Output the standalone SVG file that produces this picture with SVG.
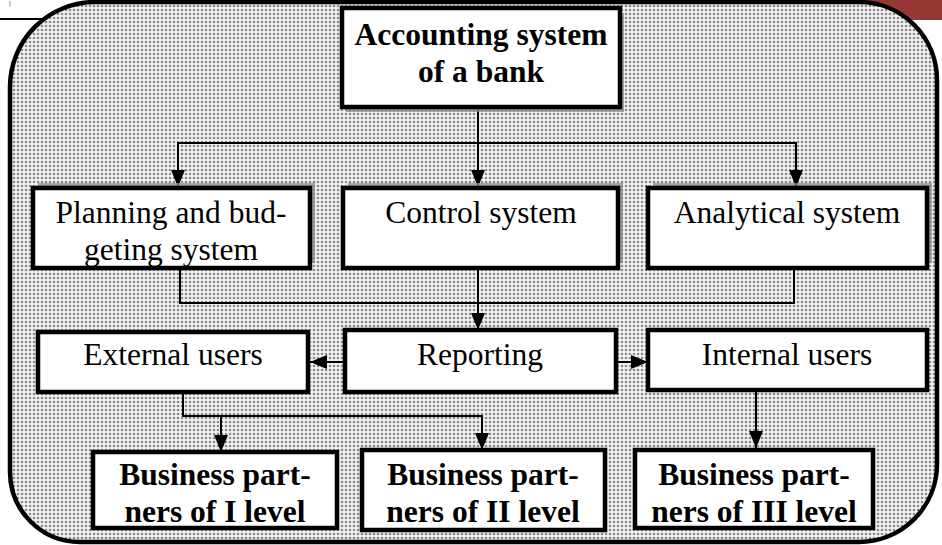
<svg xmlns="http://www.w3.org/2000/svg" width="942" height="545" viewBox="0 0 942 545">
  <style>
    .box { fill: #ffffff; stroke: #000000; stroke-width: 4.5; }
    .shadow { fill: #8a8a8a; opacity: 0.75; }
    .lbl { font-family: "Liberation Serif", "Times New Roman", serif; font-size: 31.5px; fill: #000000; text-anchor: middle; }
    .bold { font-weight: bold; }
    .conn { fill: none; stroke: #000000; stroke-width: 2; }
  </style>
  <defs>
    <pattern id="dots" width="4" height="4" patternUnits="userSpaceOnUse">
      <rect width="4" height="4" fill="#f2f2f2"/>
      <circle cx="2" cy="2" r="1.3" fill="#8a8a8a"/>
    </pattern>
    <marker id="arrow" markerUnits="userSpaceOnUse" viewBox="0 0 17 14" markerWidth="17" markerHeight="14" refX="17" refY="7" orient="auto">
      <path d="M0,0 L17,7 L0,14 z" fill="#000000"/>
    </marker>
  </defs>

  <!-- page header fragments -->
  <rect x="862" y="0" width="80" height="20" fill="#953735"/>
  <line x1="0" y1="19" x2="46" y2="19" stroke="#000000" stroke-width="2"/>
  <text x="9" y="5" font-family="Liberation Serif, serif" font-size="6" font-weight="bold" fill="#76923C">[</text>

  <!-- rounded frame with dotted fill -->
  <path id="frame" d="M95,2 H859 A78,78 0 0 1 937,80 V464 A78,78 0 0 1 859,542 H80 A70,70 0 0 1 10,472 V87 A85,85 0 0 1 95,2 Z"
        fill="url(#dots)" stroke="#000000" stroke-width="4.5"/>

  <!-- connectors -->
  <g id="connectors">
    <line class="conn" x1="478" y1="107" x2="478" y2="187" marker-end="url(#arrow)"/>
    <line class="conn" x1="177" y1="143" x2="797" y2="143"/>
    <line class="conn" x1="178" y1="143" x2="178" y2="187" marker-end="url(#arrow)"/>
    <line class="conn" x1="796" y1="143" x2="796" y2="187" marker-end="url(#arrow)"/>
    <path class="conn" d="M180,268 V303 H794 V268"/>
    <line class="conn" x1="478" y1="268" x2="478" y2="330" marker-end="url(#arrow)"/>
    <line class="conn" x1="345" y1="362" x2="310" y2="362" marker-end="url(#arrow)"/>
    <line class="conn" x1="616" y1="362" x2="648" y2="362" marker-end="url(#arrow)"/>
    <path class="conn" d="M183,392 V416 H482 V450" marker-end="url(#arrow)"/>
    <line class="conn" x1="221" y1="416" x2="221" y2="452" marker-end="url(#arrow)"/>
    <line class="conn" x1="756" y1="392" x2="756" y2="448" marker-end="url(#arrow)"/>
  </g>

  <!-- top node -->
  <g id="accounting">
    <rect class="shadow" x="346" y="13" width="278" height="99"/>
    <rect class="box" x="342" y="8" width="278" height="99" stroke-width="5"/>
    <text class="lbl bold" x="481" y="45">Accounting system</text>
    <text class="lbl bold" x="481" y="82">of a bank</text>
  </g>

  <!-- second row -->
  <g id="planning">
    <rect class="shadow" x="38" y="183" width="277" height="80"/>
    <rect class="box" x="33" y="188" width="277" height="80"/>
    <text class="lbl" x="171" y="223">Planning and bud-</text>
    <text class="lbl" x="171" y="260">geting system</text>
  </g>
  <g id="control">
    <rect class="shadow" x="348" y="183" width="275" height="80"/>
    <rect class="box" x="343" y="188" width="275" height="80"/>
    <text class="lbl" x="481" y="223">Control system</text>
  </g>
  <g id="analytical">
    <rect class="shadow" x="653" y="183" width="279" height="80"/>
    <rect class="box" x="648" y="188" width="279" height="80"/>
    <text class="lbl" x="787" y="223">Analytical system</text>
  </g>

  <!-- third row -->
  <g id="external">
    <rect class="box" x="38" y="332" width="270" height="60"/>
    <text class="lbl" x="173" y="365">External users</text>
  </g>
  <g id="reporting">
    <rect class="box" x="345" y="330" width="271" height="62"/>
    <text class="lbl" x="480" y="365">Reporting</text>
  </g>
  <g id="internal">
    <rect class="box" x="648" y="330" width="279" height="60"/>
    <text class="lbl" x="787" y="365">Internal users</text>
  </g>

  <!-- bottom row -->
  <g id="partners1">
    <rect class="box" x="93" y="452" width="244" height="76"/>
    <text class="lbl bold" x="215" y="485">Business part-</text>
    <text class="lbl bold" x="215" y="522">ners of I level</text>
  </g>
  <g id="partners2">
    <rect class="box" x="362" y="450" width="243" height="80"/>
    <text class="lbl bold" x="483" y="485">Business part-</text>
    <text class="lbl bold" x="483" y="522">ners of II level</text>
  </g>
  <g id="partners3">
    <rect class="box" x="635" y="450" width="238" height="78"/>
    <text class="lbl bold" x="754" y="485">Business part-</text>
    <text class="lbl bold" x="754" y="522">ners of III level</text>
  </g>
</svg>
